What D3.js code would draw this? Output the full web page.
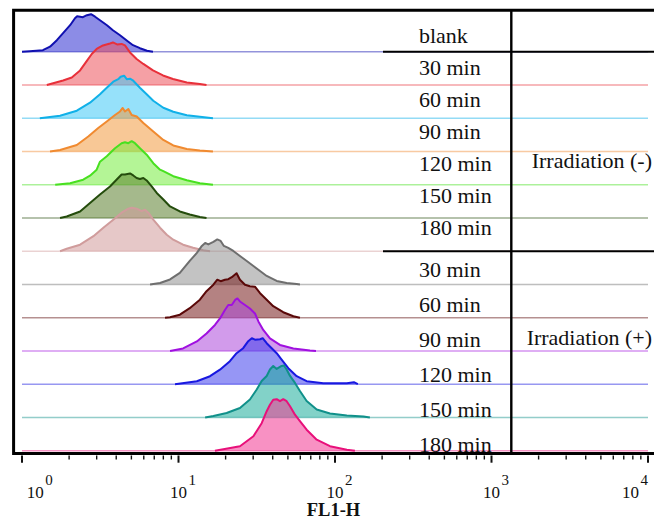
<!DOCTYPE html>
<html>
<head>
<meta charset="utf-8">
<script src="https://cdn.jsdelivr.net/npm/d3@7"></script>
<style>
  html, body { margin: 0; padding: 0; background: #fff; overflow: hidden; }
  svg { display: block; }
</style>
</head>
<body>
<svg id="chart" width="654" height="521" font-family="Liberation Serif, DejaVu Serif, serif"></svg>
<script>
// ---- Samples (top to bottom) ----
const sampleIds = ["blank", "dark30", "dark60", "dark90", "dark120", "dark150", "dark180",
                   "light30", "light60", "light90", "light120", "light150", "light180"];
const sampleLabels = ["blank", "30 min", "60 min", "90 min", "120 min", "150 min", "180 min",
                      "30 min", "60 min", "90 min", "120 min", "150 min", "180 min"];
const sampleGroup = [0, 0, 0, 0, 0, 0, 0, 1, 1, 1, 1, 1, 1];
const groupNames = ["Irradiation (-)", "Irradiation (+)"];

// ---- FL1-H histograms: [intensity, events] ----
const histBlank = [[1.0,0],[1.12,1],[1.36,3],[1.51,10],[1.67,23],[1.83,37],[2.03,53],[2.18,67],[2.25,71],
  [2.35,70],[2.45,69],[2.60,73],[2.76,75],[2.93,70],[3.15,63],[3.49,53],[3.81,43],[4.23,33],[4.69,22],
  [5.12,13],[5.67,7],[6.29,2],[6.87,0]];
const histDark30 = [[1.44,0],[1.83,9],[2.08,15],[2.35,29],[2.61,49],[2.79,62],[3.00,72],[3.29,79],[3.65,83],
  [3.81,85],[4.05,81],[4.33,82],[4.55,79],[4.90,65],[5.40,52],[5.96,42],[6.87,29],[7.96,19],[9.22,12],
  [11.3,5],[13.7,2],[15.1,0]];
const histDark60 = [[1.30,0],[1.75,5],[2.24,15],[2.72,31],[3.15,48],[3.48,61],[3.83,73],[4.12,78],[4.27,83],
  [4.49,85],[4.67,78],[4.90,79],[5.14,75],[5.67,61],[6.26,48],[6.90,35],[8.00,21],[9.26,13],[11.3,6],
  [13.7,3],[16.6,0]];
const histDark90 = [[1.51,0],[1.75,3],[2.24,13],[2.65,30],[3.07,47],[3.48,60],[3.93,73],[4.23,80],[4.40,87],
  [4.55,80],[4.78,85],[5.02,73],[5.41,70],[5.96,57],[6.90,40],[8.00,23],[9.26,12],[11.3,5],[13.7,2],[16.6,0]];
const histDark120 = [[1.63,0],[2.03,3],[2.46,10],[2.72,18],[3.00,30],[3.15,46],[3.48,57],[3.93,73],[4.33,83],
  [4.55,85],[4.78,83],[5.02,87],[5.27,83],[5.67,73],[6.26,60],[6.90,43],[7.62,30],[8.00,27],[9.26,17],
  [11.3,9],[13.7,3],[16.6,0]];
const histDark150 = [[1.75,0],[1.93,3],[2.35,13],[2.72,30],[3.15,47],[3.65,63],[4.03,77],[4.33,87],[4.55,87],
  [4.90,89],[5.14,85],[5.40,80],[5.67,78],[5.96,80],[6.26,75],[6.74,63],[7.26,50],[8.00,37],[8.83,23],
  [10.2,13],[11.8,7],[13.7,2],[15.1,0]];
const histDark180 = [[1.75,0],[1.93,5],[2.35,13],[2.86,30],[3.31,47],[3.83,63],[4.33,77],[4.78,85],[5.02,87],
  [5.40,85],[5.82,80],[6.11,83],[6.41,77],[6.90,63],[7.62,47],[8.41,33],[9.26,23],[10.7,13],[12.4,7],
  [14.4,2],[15.9,0]];
const histLight30 = [[6.58,0],[7.62,3],[8.83,10],[10.2,23],[11.8,47],[13.1,63],[14.1,77],[14.8,83],[15.5,80],
  [16.7,85],[17.7,90],[18.6,87],[19.5,77],[20.8,73],[22.4,67],[24.7,57],[27.3,47],[30.1,37],[33.2,27],
  [36.6,17],[42.4,7],[49.1,3],[56.9,1],[59.7,0]];
const histLight60 = [[8.20,0],[8.83,1],[10.2,6],[11.8,19],[13.7,36],[15.1,53],[16.7,66],[17.7,76],[18.6,73],
  [19.8,76],[20.8,77],[21.9,81],[23.5,89],[24.7,76],[26.6,66],[28.6,63],[30.8,62],[33.2,49],[36.6,36],
  [40.3,23],[46.7,11],[54.2,3],[59.7,0]];
const histLight90 = [[8.83,0],[10.7,5],[13.1,19],[15.1,35],[17.1,52],[18.4,65],[19.8,82],[20.8,92],[21.9,92],
  [23.0,102],[23.8,105],[24.7,99],[26.6,92],[28.6,85],[30.8,75],[32.4,59],[34.8,42],[38.4,25],[44.5,12],
  [54.2,5],[69.2,1],[75.6,0]];
const histLight120 = [[9.50,0],[13.1,6],[15.9,16],[18.4,29],[21.3,46],[23.5,62],[25.9,72],[27.9,86],[29.4,92],
  [30.8,89],[33.2,90],[34.5,92],[36.6,82],[39.4,72],[42.4,62],[45.6,49],[50.3,32],[56.9,16],[65.9,6],
  [84.2,2],[119,2],[132,4],[140,0]];
const histLight150 = [[14.8,0],[16.7,3],[20.3,9],[24.7,19],[28.6,36],[31.6,56],[34.0,73],[36.6,83],[38.4,96],
  [40.3,103],[42.4,97],[45.6,103],[47.2,104],[49.1,96],[51.6,83],[55.5,69],[59.7,53],[65.9,33],[76.4,16],
  [92.9,8],[119,4],[152,2],[167,0]];
const histLight180 = [[17.1,0],[24.7,9],[30.1,29],[34.0,55],[36.6,79],[38.4,92],[40.3,102],[42.4,103],[44.5,99],
  [46.7,103],[49.1,99],[51.6,89],[55.5,72],[59.7,59],[65.9,42],[76.4,22],[92.9,9],[119,2],[134,0]];

const histograms = [histBlank, histDark30, histDark60, histDark90, histDark120, histDark150, histDark180,
                    histLight30, histLight60, histLight90, histLight120, histLight150, histLight180];

// ---- Axis ----
const decadeTicks = [1, 10, 100, 1000, 10000];
const decadeExponents = ["0", "1", "2", "3", "4"];
const axisTitle = "FL1-H";

// ---- Styles ----
const strokeColors = ["#1010b0", "#e8303a", "#10b0e8", "#f08a30", "#48e020", "#244c0c", "#d09c9c",
                      "#6e6e6e", "#5a0808", "#a010e0", "#1818e0", "#10908a", "#e8107a"];
const fillColors = ["#2e2ed1", "#ed525b", "#40c8f6", "#f29b40", "#76ed40", "#5b802e", "#d19b9b",
                    "#929292", "#771c1c", "#ad49da", "#4040ed", "#1cad9b", "#f23792"];
const textColor = "#111";

const svg = d3.select("#chart");

const x = d3.scaleLog().domain([1, 1e4]).range([22, 648]);
const rowY = d3.scaleBand().domain(sampleIds).range([18.45, 450.7]).paddingInner(0).paddingOuter(0);
const baseOf = id => rowY(id) + rowY.bandwidth();
const h = d3.scaleLinear().domain([0, 100]).range([0, 50]);

// ---- Histogram ridges ----
const ridges = svg.append("g").attr("class", "ridges");
sampleIds.forEach((id, i) => {
  const b = baseOf(id);
  const g = ridges.append("g");
  g.append("line")
    .attr("x1", x(1)).attr("x2", x(1e4))
    .attr("y1", b).attr("y2", b)
    .attr("stroke", strokeColors[i]).attr("stroke-opacity", 0.45).attr("stroke-width", 1.5);
  const area = d3.area().x(d => x(d[0])).y0(b).y1(d => b - h(d[1]));
  const line = d3.line().x(d => x(d[0])).y(d => b - h(d[1]));
  g.append("path").datum(histograms[i]).attr("d", area)
    .attr("fill", fillColors[i]).attr("fill-opacity", 0.55);
  g.append("path").datum(histograms[i]).attr("d", line)
    .attr("fill", "none").attr("stroke", strokeColors[i]).attr("stroke-width", 2)
    .attr("stroke-linejoin", "round");
});

// ---- Frame ----
const frame = svg.append("g").attr("stroke", "#000").attr("fill", "none");
frame.append("path").attr("d", "M 670 10.2 H 13.6 V 453.5 H 670").attr("stroke-width", 3);

// ---- Table rules ----
const tableX = 383, splitX = 511.3;
frame.append("line").attr("x1", tableX).attr("x2", 670)
  .attr("y1", baseOf(sampleIds[0])).attr("y2", baseOf(sampleIds[0])).attr("stroke-width", 2);
frame.append("line").attr("x1", tableX).attr("x2", 670)
  .attr("y1", baseOf(sampleIds[6])).attr("y2", baseOf(sampleIds[6])).attr("stroke-width", 2);
frame.append("line").attr("x1", splitX).attr("x2", splitX)
  .attr("y1", 10.2).attr("y2", 453.5).attr("stroke-width", 2.4);

// ---- Bottom axis ticks ----
const allTicks = x.ticks();
const axisG = svg.append("g").attr("stroke", "#111");
axisG.selectAll("line").data(allTicks).join("line")
  .attr("x1", d => x(d)).attr("x2", d => x(d))
  .attr("y1", 455.5)
  .attr("y2", d => decadeTicks.includes(d) ? 462.7 : 459.5)
  .attr("stroke-width", d => decadeTicks.includes(d) ? 2 : 1.4);

// ---- Tick labels ----
const tickLab = svg.append("g").attr("fill", textColor);
decadeTicks.forEach((d, k) => {
  const start = Math.max(26.7, Math.min(622, x(d) - 8.4));
  const t = tickLab.append("text").attr("x", start).attr("y", 498).attr("font-size", 17).text("10");
  t.append("tspan").attr("dx", 1.5).attr("dy", -13).attr("font-size", 15).text(decadeExponents[k]);
});
svg.append("text").attr("x", (x(1) + x(1e4)) / 2 - 1.5).attr("y", 515.5).attr("fill", textColor)
  .attr("text-anchor", "middle").attr("font-size", 18.5).attr("font-weight", "bold").text(axisTitle);

// ---- Row labels ----
const topLabelY = d3.scaleLinear().domain([0, 6]).range([43.3, 235]);
const bottomLabelY = d3.scaleLinear().domain([0, 5]).range([276.7, 451.7]);
const labelY = i => sampleGroup[i] === 0 ? topLabelY(i) : bottomLabelY(i - 7);
const labels = svg.append("g").attr("fill", textColor);
sampleLabels.forEach((s, i) => {
  labels.append("text")
    .attr("transform", `translate(419,${labelY(i)}) scale(1.1,1)`)
    .attr("font-size", 20).text(s);
});
// group captions, aligned with a row label of their group
const groupAnchorRow = [4, 9];
groupNames.forEach((s, gI) => {
  labels.append("text")
    .attr("transform", `translate(652,${labelY(groupAnchorRow[gI]) - (gI === 0 ? 2.8 : 1.5)}) scale(1.1,1)`)
    .attr("text-anchor", "end").attr("font-size", 20).text(s);
});
</script>
</body>
</html>
